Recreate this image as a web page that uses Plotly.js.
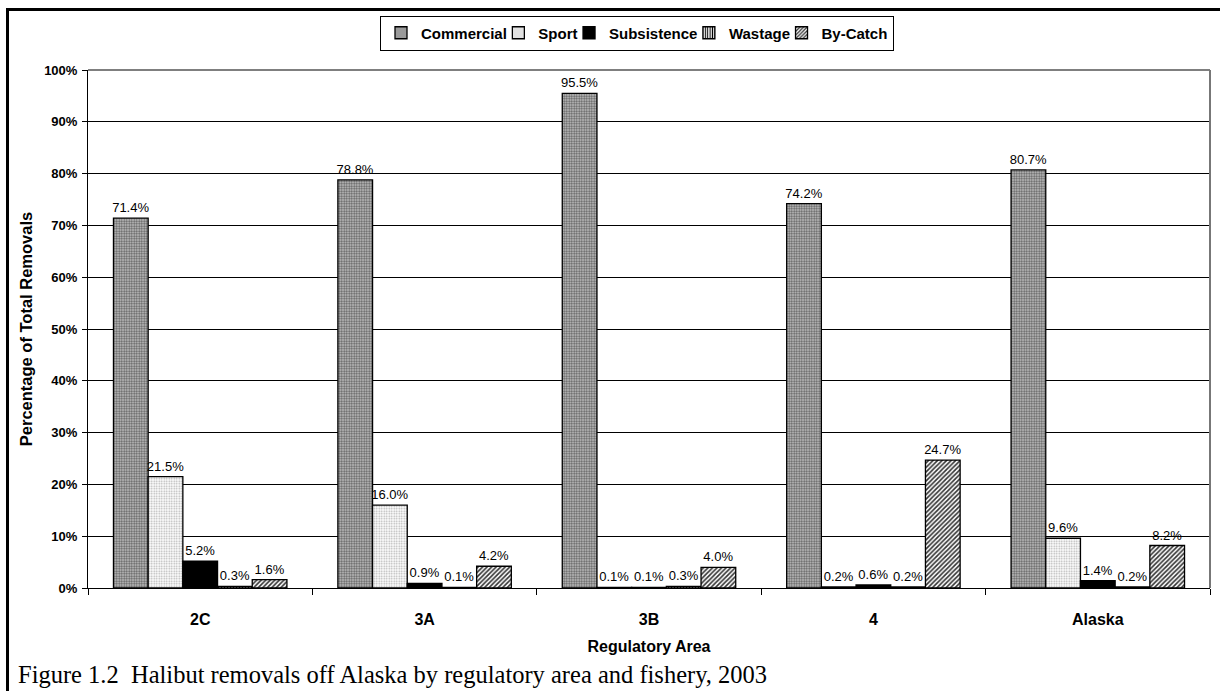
<!DOCTYPE html>
<html>
<head>
<meta charset="utf-8">
<script src="https://cdn.plot.ly/plotly-3.0.1.min.js"></script>
<style>
html,body{margin:0;padding:0;background:#fff;}
#chart{width:1220px;height:691px;}
</style>
</head>
<body>
<div id="chart"></div>
<script>
// ---- data ----
const areas = ["2C", "3A", "3B", "4", "Alaska"];
const seriesNames = ["Commercial", "Sport", "Subsistence", "Wastage", "By-Catch"];
const commercial  = [71.4, 78.8, 95.5, 74.2, 80.7];
const sport       = [21.5, 16.0, 0.1, 0.2, 9.6];
const subsistence = [5.2, 0.9, 0.1, 0.6, 1.4];
const wastage     = [0.3, 0.1, 0.3, 0.2, 0.2];
const bycatch     = [1.6, 4.2, 4.0, 24.7, 8.2];
const yTickVals   = [0, 10, 20, 30, 40, 50, 60, 70, 80, 90, 100];
const yTickText   = ["0%", "10%", "20%", "30%", "40%", "50%", "60%", "70%", "80%", "90%", "100%"];

const values = [commercial, sport, subsistence, wastage, bycatch];
const styles = [
  {color: "#b8b8b8", pattern: {shape: ".", bgcolor: "#c8c8c8", fgcolor: "#606060", size: 2.5, solidity: 0.5}},
  {color: "#ffffff", pattern: {shape: ".", bgcolor: "#ffffff", fgcolor: "#b0b0b0", size: 2.5, solidity: 0.35}},
  {color: "#000000"},
  {color: "#ffffff", pattern: {shape: "|", bgcolor: "#ffffff", fgcolor: "#000000", size: 3, solidity: 0.45}},
  {color: "#ffffff", pattern: {shape: "/", bgcolor: "#ffffff", fgcolor: "#333333", size: 3.2, solidity: 0.5}}
];

const FONT = "Liberation Sans, Arial, sans-serif";
const LEGEND_SIZE = 15;

// measure legend text widths to make the legend entries compact like the original
const cvs = document.createElement("canvas").getContext("2d");
cvs.font = "bold " + LEGEND_SIZE + "px 'Liberation Sans', Arial, sans-serif";
const legendWidths = seriesNames.map((n, i) => {
  const w = cvs.measureText(n).width;
  return i === seriesNames.length - 1 ? w : Math.max(1, w - 13.5);
});

const traces = seriesNames.map((name, i) => ({
  type: "bar",
  name: name,
  x: areas,
  y: values[i],
  text: values[i].map(v => v.toFixed(1) + "%"),
  textposition: "outside",
  constraintext: "none",
  cliponaxis: false,
  textfont: {family: FONT, size: 13, color: "#000"},
  legendwidth: legendWidths[i],
  marker: Object.assign({line: {color: "#000", width: 1.3}}, styles[i])
}));

// pixel helpers for frame decorations
const L = 88, R = 1210, T = 70, B = 588;
const px = x => (x - L) / (R - L);
const py = y => (B - y) / (B - T);

const layout = {
  width: 1220, height: 691,
  margin: {l: L, r: 1220 - R, t: T, b: 691 - B, pad: 0},
  paper_bgcolor: "#ffffff",
  plot_bgcolor: "#ffffff",
  font: {family: FONT, color: "#000"},
  barmode: "group",
  bargap: 0.227,
  bargroupgap: 0,
  showlegend: true,
  legend: {
    orientation: "h",
    x: px(637), xanchor: "center",
    y: py(33), yanchor: "middle",
    bordercolor: "#000", borderwidth: 1,
    bgcolor: "#fff",
    font: {family: FONT, size: LEGEND_SIZE, weight: "bold", color: "#000"},
    itemwidth: 30,
    tracegroupgap: 0
  },
  xaxis: {
    type: "category",
    tickson: "boundaries",
    ticks: "outside", ticklen: 6, tickcolor: "#000", tickwidth: 1,
    showline: true, linecolor: "#000", linewidth: 1,
    showgrid: false,
    tickfont: {family: FONT, size: 16, weight: "bold"},
    ticklabelstandoff: 17,
    title: {text: "Regulatory Area", font: {family: FONT, size: 16, weight: "bold"}, standoff: 13},
    fixedrange: true
  },
  yaxis: {
    range: [0, 100],
    tickvals: yTickVals, ticktext: yTickText,
    ticks: "outside", ticklen: 5, tickcolor: "#000", tickwidth: 1,
    showline: true, linecolor: "#000", linewidth: 1,
    showgrid: true, gridcolor: "#000", gridwidth: 1,
    zeroline: false,
    tickfont: {family: FONT, size: 13, weight: "bold"},
    ticklabelstandoff: 2,
    title: {text: "Percentage of Total Removals", font: {family: FONT, size: 16.5, weight: "bold"}, standoff: 7},
    fixedrange: true
  },
  shapes: [
    // plot area frame (top & right)
    {type: "line", xref: "paper", yref: "paper", x0: 0, x1: 1, y0: 1, y1: 1, line: {color: "#555", width: 1.5}},
    {type: "line", xref: "paper", yref: "paper", x0: 1, x1: 1, y0: 0, y1: 1, line: {color: "#777", width: 2}},
    // outer thick frame (top & left)
    {type: "line", xref: "paper", yref: "paper", x0: px(6), x1: px(1222), y0: py(9.5), y1: py(9.5), line: {color: "#000", width: 3}},
    {type: "line", xref: "paper", yref: "paper", x0: px(7.5), x1: px(7.5), y0: py(8), y1: py(695), line: {color: "#000", width: 3}}
  ],
  annotations: [
    {text: "Figure 1.2  Halibut removals off Alaska by regulatory area and fishery, 2003",
     xref: "paper", yref: "paper", x: px(16), y: py(674), xanchor: "left", yanchor: "middle",
     showarrow: false, font: {family: "Liberation Serif, Times New Roman, serif", size: 24.5, color: "#000"}}
  ]
};

Plotly.newPlot("chart", traces, layout, {displayModeBar: false, staticPlot: true});
</script>
</body>
</html>
